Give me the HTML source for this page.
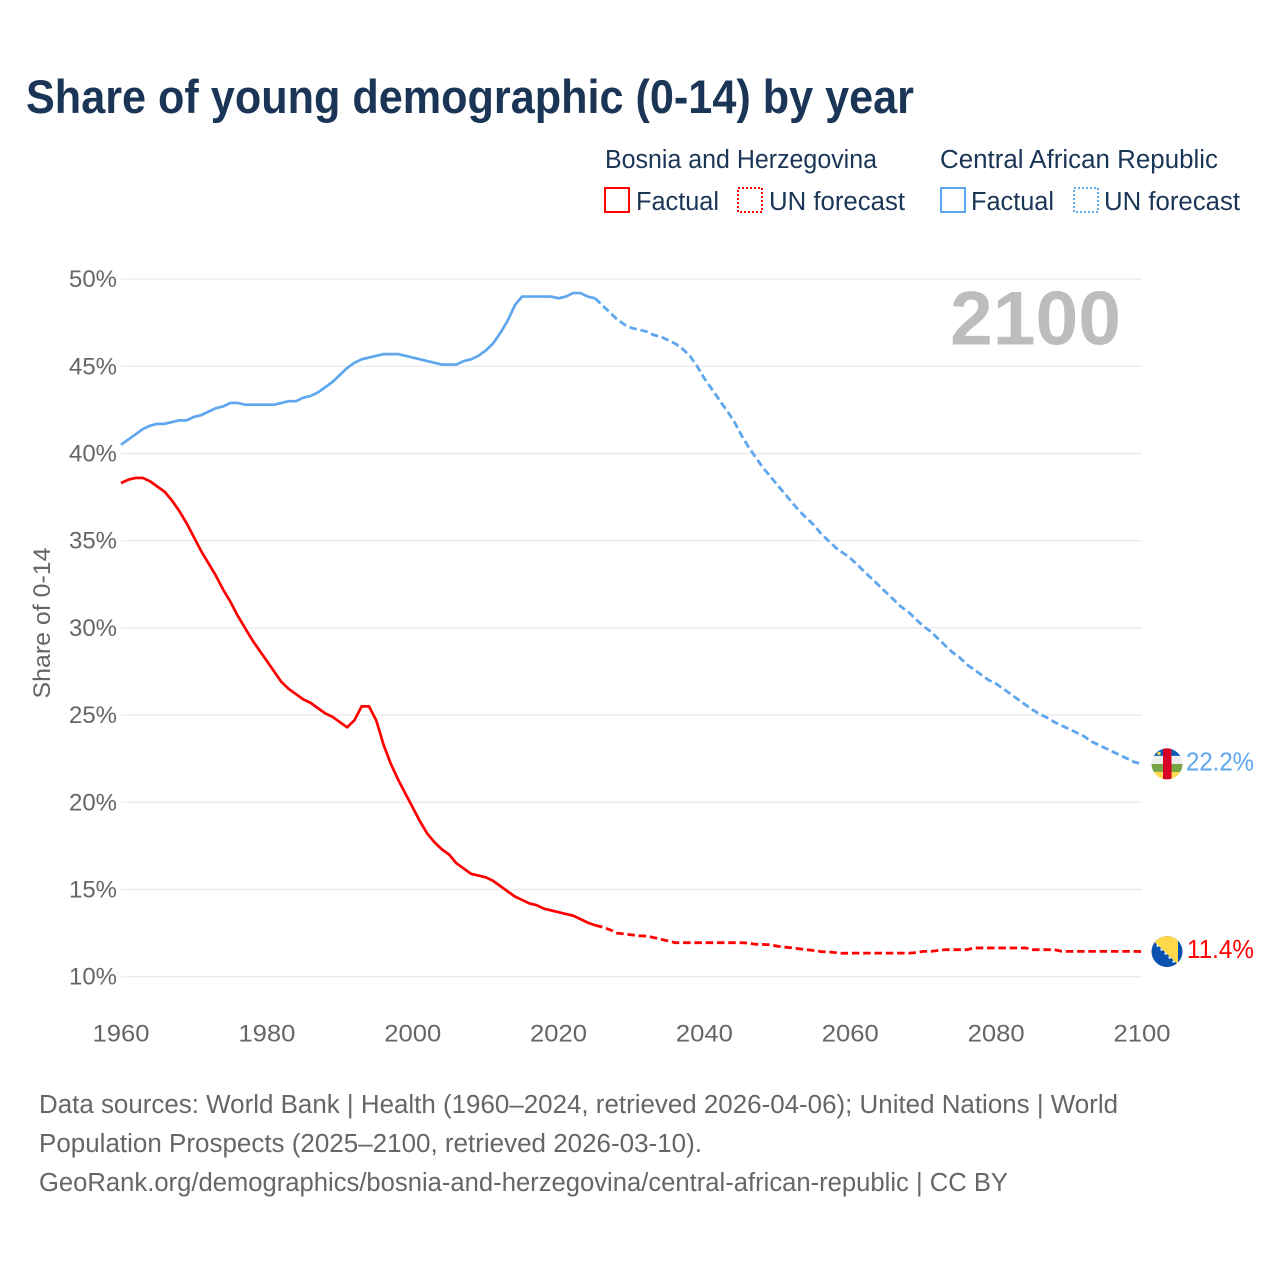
<!DOCTYPE html>
<html lang="en">
<head>
<meta charset="utf-8">
<title>Share of young demographic (0-14) by year</title>
<style>
html,body{margin:0;padding:0;background:#fff;width:1280px;height:1280px;overflow:hidden}
svg{display:block}
text{font-family:"Liberation Sans",sans-serif}
.leg{font-size:25.5px;fill:#1a3555}
.foot{font-size:25.5px;fill:#666}
</style>
</head>
<body>
<svg id="chart" xmlns="http://www.w3.org/2000/svg" width="1280" height="1280" viewBox="0 0 1280 1280">
  <rect width="1280" height="1280" fill="#fff"/>
  <text x="26" y="113" font-size="47" font-weight="700" fill="#1a3555" textLength="888" lengthAdjust="spacingAndGlyphs">Share of young demographic (0-14) by year</text>

  <g>
    <text class="leg" x="605" y="168" textLength="272" lengthAdjust="spacingAndGlyphs">Bosnia and Herzegovina</text>
    <text class="leg" x="940" y="168" textLength="278" lengthAdjust="spacingAndGlyphs">Central African Republic</text>
    <rect x="605" y="188" width="24" height="24" fill="none" stroke="#ff0000" stroke-width="2"/>
    <text class="leg" x="636" y="210" textLength="83" lengthAdjust="spacingAndGlyphs">Factual</text>
    <rect x="738" y="188" width="24" height="24" fill="none" stroke="#ff0000" stroke-width="2" stroke-dasharray="2 2"/>
    <text class="leg" x="769" y="210" textLength="136" lengthAdjust="spacingAndGlyphs">UN forecast</text>
    <rect x="941" y="188" width="24" height="24" fill="none" stroke="#5ea6ee" stroke-width="2"/>
    <text class="leg" x="971" y="210" textLength="83" lengthAdjust="spacingAndGlyphs">Factual</text>
    <rect x="1074" y="188" width="24" height="24" fill="none" stroke="#5ea6ee" stroke-width="2" stroke-dasharray="2 2"/>
    <text class="leg" x="1104" y="210" textLength="136" lengthAdjust="spacingAndGlyphs">UN forecast</text>
  </g>

  <g id="grid"></g>
  <g id="ylabels"></g>
  <g id="xlabels"></g>

  <text transform="translate(50 623) rotate(-90)" text-anchor="middle" font-size="24.5" fill="#666" textLength="151" lengthAdjust="spacingAndGlyphs">Share of 0-14</text>
  <text x="950" y="344.5" font-size="76" font-weight="700" fill="#bdbdbd" textLength="171" lengthAdjust="spacingAndGlyphs">2100</text>

  <g id="series"></g>

  <g id="flag-car">
    <defs>
      <clipPath id="flag-clip"><circle cx="0" cy="0" r="15.5"/></clipPath>
    </defs>
    <g clip-path="url(#flag-clip)">
      <rect x="-16" y="-16" width="32" height="8" fill="#0b5cb5"/>
      <rect x="-16" y="-8" width="32" height="8" fill="#eeeeee"/>
      <rect x="-16" y="0" width="32" height="8" fill="#76a344"/>
      <rect x="-16" y="8" width="32" height="8" fill="#ffd94a"/>
      <rect x="-4" y="-16" width="8.5" height="32" fill="#d80027"/>
      <rect x="-9.5" y="-12" width="3" height="3" fill="#ffd94a"/>
    </g>
  </g>
  <g id="flag-bih">
    <g clip-path="url(#flag-clip)">
      <rect x="-16" y="-16" width="32" height="32" fill="#0b52b0"/>
      <polygon points="-15,-12 -12,-16 11,-16 11,13" fill="#ffd94a"/>
      <g fill="#fff">
        <circle cx="-9.5" cy="-6" r="1.1"/>
        <circle cx="-5.5" cy="-2" r="1.1"/>
        <circle cx="-1.5" cy="2" r="1.1"/>
        <circle cx="2.5" cy="6" r="1.1"/>
        <circle cx="6.5" cy="10" r="1.1"/>
      </g>
    </g>
  </g>
  <text id="label-car" x="1186" font-size="25.5" fill="#5ea6ee" textLength="68" lengthAdjust="spacingAndGlyphs"></text>
  <text id="label-bih" x="1187" font-size="25.5" fill="#ff0000" textLength="67" lengthAdjust="spacingAndGlyphs"></text>

  <g>
    <text class="foot" x="39" y="1113" textLength="1079" lengthAdjust="spacingAndGlyphs">Data sources: World Bank | Health (1960–2024, retrieved 2026-04-06); United Nations | World</text>
    <text class="foot" x="39" y="1152" textLength="663" lengthAdjust="spacingAndGlyphs">Population Prospects (2025–2100, retrieved 2026-03-10).</text>
    <text class="foot" x="39" y="1191" textLength="969" lengthAdjust="spacingAndGlyphs">GeoRank.org/demographics/bosnia-and-herzegovina/central-african-republic | CC BY</text>
  </g>
</svg>
<script>
const startYear = 1960;
const forecastStartYear = 2025;
const xTickLabels = [1960, 1980, 2000, 2020, 2040, 2060, 2080, 2100];
const yTickLabels = [10, 15, 20, 25, 30, 35, 40, 45, 50];
const bosniaValues = [
  38.3,38.5,38.6,38.6,38.4,38.1,37.8,37.3,36.7,36.0,
  35.2,34.4,33.7,33.0,32.2,31.5,30.7,30.0,29.3,28.7,
  28.1,27.5,26.9,26.5,26.2,25.9,25.7,25.4,25.1,24.9,
  24.6,24.3,24.7,25.5,25.5,24.7,23.3,22.2,21.3,20.5,
  19.7,18.9,18.2,17.7,17.3,17.0,16.5,16.2,15.9,15.8,
  15.7,15.5,15.2,14.9,14.6,14.4,14.2,14.1,13.9,13.8,
  13.7,13.6,13.5,13.3,13.1,12.95,12.85,12.7,12.5,12.45,
  12.4,12.35,12.33,12.25,12.15,12.05,11.95,11.95,11.95,11.95,
  11.95,11.95,11.95,11.95,11.95,11.95,11.93,11.86,11.85,11.83,
  11.75,11.7,11.65,11.6,11.55,11.5,11.44,11.42,11.38,11.34,
  11.35,11.35,11.35,11.35,11.35,11.35,11.35,11.35,11.35,11.38,
  11.45,11.45,11.5,11.55,11.55,11.55,11.55,11.65,11.65,11.65,
  11.65,11.65,11.65,11.65,11.65,11.55,11.55,11.55,11.55,11.45,
  11.45,11.45,11.45,11.45,11.45,11.45,11.45,11.45,11.45,11.45,11.44
];
const carValues = [
  40.5,40.8,41.1,41.4,41.6,41.7,41.7,41.8,41.9,41.9,
  42.1,42.2,42.4,42.6,42.7,42.9,42.9,42.8,42.8,42.8,
  42.8,42.8,42.9,43.0,43.0,43.2,43.3,43.5,43.8,44.1,
  44.5,44.9,45.2,45.4,45.5,45.6,45.7,45.7,45.7,45.6,
  45.5,45.4,45.3,45.2,45.1,45.1,45.1,45.3,45.4,45.6,
  45.9,46.3,46.9,47.6,48.5,49.0,49.0,49.0,49.0,49.0,
  48.9,49.0,49.2,49.2,49.0,48.9,48.5,48.1,47.7,47.4,
  47.2,47.1,47.0,46.8,46.7,46.5,46.3,46.0,45.6,45.0,
  44.3,43.7,43.1,42.5,41.9,41.1,40.4,39.8,39.2,38.7,
  38.2,37.7,37.2,36.7,36.3,35.9,35.4,35.0,34.6,34.3,
  34.0,33.6,33.2,32.8,32.4,32.0,31.6,31.2,30.9,30.5,
  30.1,29.8,29.4,29.0,28.6,28.3,27.9,27.6,27.3,27.0,
  26.8,26.5,26.2,25.9,25.6,25.3,25.05,24.85,24.6,24.4,
  24.2,24.0,23.8,23.5,23.3,23.1,22.9,22.7,22.5,22.3,22.2
];

const NS = 'http://www.w3.org/2000/svg';
const xScale = year => 121 + (year - 1960) * (1142 - 121) / 140;
const yScale = value => 976.7 - (value - 10) * (976.7 - 279.1) / 40;

const gridGroup = document.getElementById('grid');
const yLabelGroup = document.getElementById('ylabels');
const xLabelGroup = document.getElementById('xlabels');
const seriesGroup = document.getElementById('series');

yTickLabels.forEach(tick => {
  const line = document.createElementNS(NS, 'line');
  
  
  line.setAttribute('x1', 121);
  line.setAttribute('x2', 1142);
  line.setAttribute('y1', yScale(tick));
  line.setAttribute('y2', yScale(tick));
  line.setAttribute('stroke', '#ebebeb');
  line.setAttribute('stroke-width', '1.4');
  gridGroup.appendChild(line);

  const label = document.createElementNS(NS, 'text');
  
  
  label.setAttribute('x', 69);
  label.setAttribute('y', yScale(tick) + 8);
  label.setAttribute('font-size', '24.5');
  label.setAttribute('fill', '#666');
  label.setAttribute('textLength', '48');
  label.setAttribute('lengthAdjust', 'spacingAndGlyphs');
  label.textContent = tick + '%';
  yLabelGroup.appendChild(label);
});

xTickLabels.forEach(tick => {
  const label = document.createElementNS(NS, 'text');
  
  
  label.setAttribute('x', xScale(tick) - 28.5);
  label.setAttribute('y', 1041.5);
  label.setAttribute('font-size', '24.5');
  label.setAttribute('fill', '#666');
  label.setAttribute('textLength', '57');
  label.setAttribute('lengthAdjust', 'spacingAndGlyphs');
  label.textContent = tick;
  xLabelGroup.appendChild(label);
});

function pathFor(values, fromYear, toYear) {
  let d = '';
  values.forEach((v, i) => {
    const year = startYear + i;
    if (year < fromYear || year > toYear) return;
    d += (d ? 'L' : 'M') + xScale(year).toFixed(2) + ' ' + yScale(v).toFixed(2);
  });
  return d;
}

function drawSeries(values, color, name) {
  const solid = document.createElementNS(NS, 'path');
  
  
  solid.setAttribute('d', pathFor(values, startYear, forecastStartYear));
  solid.setAttribute('fill', 'none');
  solid.setAttribute('stroke', color);
  solid.setAttribute('stroke-width', '2.7');
  solid.setAttribute('stroke-linejoin', 'round');
  seriesGroup.appendChild(solid);

  const dashed = document.createElementNS(NS, 'path');
  
  
  dashed.setAttribute('d', pathFor(values, forecastStartYear, 2100));
  dashed.setAttribute('fill', 'none');
  dashed.setAttribute('stroke', color);
  dashed.setAttribute('stroke-width', '2.8');
  dashed.setAttribute('stroke-dasharray', '7.5 3.8');
  seriesGroup.appendChild(dashed);
}

drawSeries(bosniaValues, '#ff0000', 'bosnia');
drawSeries(carValues, '#5ea6ee', 'car');

function placeEnd(values, flagId, labelId) {
  const last = values[values.length - 1];
  const y = yScale(last);
  document.getElementById(flagId).setAttribute('transform', 'translate(1167 ' + y.toFixed(2) + ')');
  const label = document.getElementById(labelId);
  label.setAttribute('y', (y + 6.5).toFixed(2));
  label.textContent = last.toFixed(1) + '%';
}
placeEnd(carValues, 'flag-car', 'label-car');
placeEnd(bosniaValues, 'flag-bih', 'label-bih');
</script>
</body>
</html>
